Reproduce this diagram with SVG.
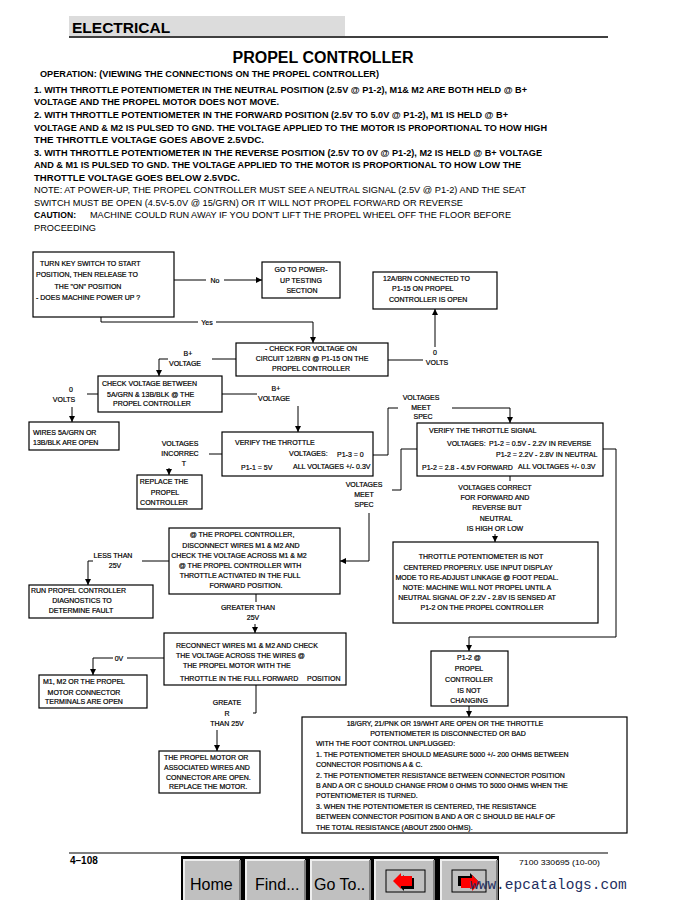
<svg xmlns="http://www.w3.org/2000/svg" width="683" height="900" viewBox="0 0 683 900">
<defs>
<marker id="ah" markerWidth="6" markerHeight="6" refX="6" refY="3" orient="auto" markerUnits="userSpaceOnUse">
<path d="M0,0 L6,3 L0,6 z" fill="#000"/>
</marker>
<style>
.p{font-family:"Liberation Sans",Arial,sans-serif;font-size:9.5px;font-weight:bold;fill:#000}
.pn{font-weight:normal}
.t{font-family:"Liberation Sans",Arial,sans-serif;font-size:7px;fill:#000;stroke:#000;stroke-width:0.2}
.m{text-anchor:middle}
.box{fill:none;stroke:#000;stroke-width:1.2}
.ln{fill:none;stroke:#000;stroke-width:1}
.arr{marker-end:url(#ah)}
.btn{fill:#c0c0c0;stroke:none}
.bt{font-family:"Liberation Sans",Arial,sans-serif;font-size:16px;fill:#000}
</style>
</defs>
<rect width="683" height="900" fill="#fff"/>

<g id="header">
<rect x="69" y="16" width="276" height="20" fill="#dcdcdc"/>
<text x="72" y="33" font-family="Liberation Sans, Arial, sans-serif" font-size="15.5" font-weight="bold">ELECTRICAL</text>
<line x1="69" y1="37" x2="608" y2="37" stroke="#000" stroke-width="1.5"/>
<text x="323" y="63" text-anchor="middle" font-family="Liberation Sans, Arial, sans-serif" font-size="16" font-weight="bold">PROPEL CONTROLLER</text>
</g>

<g id="operation-text">
<text class="p" x="40" y="76.5" textLength="339" lengthAdjust="spacingAndGlyphs">OPERATION: (VIEWING THE CONNECTIONS ON THE PROPEL CONTROLLER)</text>
<text class="p" x="34" y="92.5" textLength="493" lengthAdjust="spacingAndGlyphs">1. WITH THROTTLE POTENTIOMETER IN THE NEUTRAL POSITION (2.5V @ P1-2), M1&amp; M2 ARE BOTH HELD @ B+</text>
<text class="p" x="34" y="105" textLength="245" lengthAdjust="spacingAndGlyphs">VOLTAGE AND THE PROPEL MOTOR DOES NOT MOVE.</text>
<text class="p" x="34" y="117.5" textLength="474" lengthAdjust="spacingAndGlyphs">2. WITH THROTTLE POTENTIOMETER IN THE FORWARD POSITION (2.5V TO 5.0V @ P1-2), M1 IS HELD @ B+</text>
<text class="p" x="34" y="130.5" textLength="513" lengthAdjust="spacingAndGlyphs">VOLTAGE AND &amp; M2 IS PULSED TO GND. THE VOLTAGE APPLIED TO THE MOTOR IS PROPORTIONAL TO HOW HIGH</text>
<text class="p" x="34" y="143" textLength="230" lengthAdjust="spacingAndGlyphs">THE THROTTLE VOLTAGE GOES ABOVE 2.5VDC.</text>
<text class="p" x="34" y="155.5" textLength="508" lengthAdjust="spacingAndGlyphs">3. WITH THROTTLE POTENTIOMETER IN THE REVERSE POSITION (2.5V TO 0V @ P1-2), M2 IS HELD @ B+ VOLTAGE</text>
<text class="p" x="34" y="168" textLength="487" lengthAdjust="spacingAndGlyphs">AND &amp; M1 IS PULSED TO GND. THE VOLTAGE APPLIED TO THE MOTOR IS PROPORTIONAL TO HOW LOW THE</text>
<text class="p" x="34" y="180.5" textLength="206" lengthAdjust="spacingAndGlyphs">THROTTLE VOLTAGE GOES BELOW 2.5VDC.</text>
<text class="p pn" x="34" y="193" textLength="492" lengthAdjust="spacingAndGlyphs">NOTE: AT POWER-UP, THE PROPEL CONTROLLER MUST SEE A NEUTRAL SIGNAL (2.5V @ P1-2) AND THE SEAT</text>
<text class="p pn" x="34" y="205.5" textLength="429" lengthAdjust="spacingAndGlyphs">SWITCH MUST BE OPEN (4.5V-5.0V @ 15/GRN) OR IT WILL NOT PROPEL FORWARD OR REVERSE</text>
<text class="p" x="34" y="218" textLength="42" lengthAdjust="spacingAndGlyphs">CAUTION:</text>
<text class="p pn" x="90" y="218" textLength="421" lengthAdjust="spacingAndGlyphs">MACHINE COULD RUN AWAY IF YOU DON'T LIFT THE PROPEL WHEEL OFF THE FLOOR BEFORE</text>
<text class="p pn" x="34" y="230.5" textLength="62" lengthAdjust="spacingAndGlyphs">PROCEEDING</text>
</g>

<g id="connectors">
<line class="ln" x1="174" y1="280" x2="206" y2="280"/>
<line class="ln arr" x1="224" y1="280" x2="262" y2="280"/>
<text class="t m" x="215" y="282.5">No</text>

<polyline class="ln" points="101,317 101,322 198,322"/>
<polyline class="ln arr" points="216,322 313,322 313,343"/>
<text class="t m" x="207" y="324.5">Yes</text>

<line class="ln" x1="388" y1="360" x2="423" y2="360"/>
<line class="ln arr" x1="435" y1="347" x2="435" y2="309"/>
<text class="t m" x="435" y="354.5">0</text>
<text class="t m" x="437" y="364.5">VOLTS</text>

<line class="ln" x1="236" y1="359" x2="212" y2="359"/>
<polyline class="ln arr" points="168,359 159,359 159,376"/>
<text class="t m" x="188" y="355.5">B+</text>
<text class="t m" x="185" y="365.5">VOLTAGE</text>

<line class="ln" x1="98" y1="394" x2="87" y2="394"/>
<line class="ln arr" x1="72" y1="407" x2="72" y2="422"/>
<text class="t m" x="71" y="391.5">0</text>
<text class="t m" x="64" y="401.5">VOLTS</text>

<line class="ln" x1="222" y1="394" x2="257" y2="394"/>
<line class="ln arr" x1="298" y1="406" x2="298" y2="432"/>
<text class="t m" x="276" y="390.5">B+</text>
<text class="t m" x="274" y="400.5">VOLTAGE</text>

<line class="ln" x1="222" y1="454" x2="209" y2="454"/>
<line class="ln arr" x1="169" y1="468" x2="169" y2="475"/>
<text class="t m" x="180" y="445.5">VOLTAGES</text>
<text class="t m" x="180" y="455.5">INCORREC</text>
<text class="t m" x="184" y="465.5">T</text>

<polyline class="ln" points="373,455 388,455 388,408 398,408"/>
<polyline class="ln arr" points="452,408 510,408 510,423"/>
<text class="t m" x="421" y="399.5">VOLTAGES</text>
<text class="t m" x="421" y="409.5">MEET</text>
<text class="t m" x="423" y="418.5">SPEC</text>

<polyline class="ln" points="417,449 401,449 401,490 392,490"/>
<polyline class="ln arr" points="369,513 369,561 340,561"/>
<text class="t m" x="364" y="486.5">VOLTAGES</text>
<text class="t m" x="364" y="496.5">MEET</text>
<text class="t m" x="364" y="506.5">SPEC</text>

<line class="ln" x1="510" y1="476" x2="510" y2="481"/>
<line class="ln arr" x1="495" y1="534" x2="495" y2="542"/>
<text class="t m" x="495" y="489.5">VOLTAGES CORRECT</text>
<text class="t m" x="495" y="499.5">FOR FORWARD AND</text>
<text class="t m" x="497" y="509.5">REVERSE BUT</text>
<text class="t m" x="496" y="520.5">NEUTRAL</text>
<text class="t m" x="495" y="530.5">IS HIGH OR LOW</text>

<polyline class="ln arr" points="603,449 616,449 616,637 469,637 469,651"/>

<line class="ln" x1="169" y1="561" x2="142" y2="561"/>
<polyline class="ln arr" points="93,561 88,561 88,585"/>
<text class="t m" x="113" y="557.5">LESS THAN</text>
<text class="t m" x="115" y="567.5">25V</text>

<line class="ln" x1="256" y1="594" x2="256" y2="602"/>
<line class="ln arr" x1="255" y1="624" x2="255" y2="633"/>
<text class="t m" x="248" y="609.5">GREATER THAN</text>
<text class="t m" x="253" y="619.5">25V</text>

<line class="ln" x1="164" y1="658" x2="127" y2="658"/>
<polyline class="ln arr" points="113,658 93,658 93,675"/>
<text class="t m" x="119" y="660.5">0V</text>

<polyline class="ln" points="256,685 256,713 253,713"/>
<line class="ln arr" x1="217" y1="730" x2="217" y2="751"/>
<text class="t m" x="227" y="704.5">GREATE</text>
<text class="t m" x="227" y="715.5">R</text>
<text class="t m" x="227" y="725.5">THAN 25V</text>

<line class="ln arr" x1="469" y1="706" x2="469" y2="717"/>
</g>

<g id="node-keyswitch">
<rect class="box" x="33" y="252" width="141" height="65"/>
<text class="t" x="40" y="265.5">TURN KEY SWITCH TO START</text>
<text class="t" x="36" y="277">POSITION, THEN RELEASE TO</text>
<text class="t m" x="88" y="288.5">THE "ON" POSITION</text>
<text class="t" x="36" y="299.5">- DOES MACHINE POWER UP ?</text>
</g>

<g id="node-powerup">
<rect class="box" x="262" y="262" width="78" height="36"/>
<text class="t m" x="301" y="272">GO TO POWER-</text>
<text class="t m" x="301" y="282.5">UP TESTING</text>
<text class="t m" x="302" y="293">SECTION</text>
</g>

<g id="node-12a-open">
<rect class="box" x="373" y="272" width="124" height="37"/>
<text class="t" x="383" y="280.5">12A/BRN CONNECTED TO</text>
<text class="t" x="392" y="291">P1-15 ON PROPEL</text>
<text class="t" x="389" y="301.5">CONTROLLER IS OPEN</text>
</g>

<g id="node-check-12brn">
<rect class="box" x="236" y="343" width="152" height="33"/>
<text class="t m" x="311" y="351">- CHECK FOR VOLTAGE ON</text>
<text class="t m" x="312" y="361">CIRCUIT 12/BRN @ P1-15 ON THE</text>
<text class="t m" x="311" y="371">PROPEL CONTROLLER</text>
</g>

<g id="node-check-5a">
<rect class="box" x="98" y="376" width="124" height="36"/>
<text class="t" x="102" y="385.5">CHECK VOLTAGE BETWEEN</text>
<text class="t" x="107" y="396.5">5A/GRN &amp; 13B/BLK @ THE</text>
<text class="t" x="113" y="406">PROPEL CONTROLLER</text>
</g>

<g id="node-wires-open">
<rect class="box" x="29" y="422" width="90" height="28"/>
<text class="t" x="33" y="434.5">WIRES 5A/GRN OR</text>
<text class="t" x="33" y="444.5">13B/BLK ARE OPEN</text>
</g>

<g id="node-verify-throttle">
<rect class="box" x="222" y="432" width="151" height="44"/>
<text class="t" x="235" y="444.5">VERIFY THE THROTTLE</text>
<text class="t" x="289" y="455.5">VOLTAGES:</text>
<text class="t" x="337" y="457">P1-3 = 0</text>
<text class="t" x="241" y="470">P1-1 = 5V</text>
<text class="t" x="293" y="468.5">ALL VOLTAGES +/- 0.3V</text>
</g>

<g id="node-replace-controller">
<rect class="box" x="137" y="475" width="65" height="34"/>
<text class="t m" x="164" y="483.5">REPLACE THE</text>
<text class="t m" x="165" y="494.5">PROPEL</text>
<text class="t m" x="164" y="504.5">CONTROLLER</text>
</g>

<g id="node-verify-signal">
<rect class="box" x="417" y="423" width="186" height="53"/>
<text class="t" x="429" y="432.5">VERIFY THE THROTTLE SIGNAL</text>
<text class="t" x="447" y="445.5">VOLTAGES:</text>
<text class="t" x="489" y="445.5">P1-2 = 0.5V - 2.2V IN REVERSE</text>
<text class="t" x="496" y="456.5">P1-2 = 2.2V - 2.8V IN NEUTRAL</text>
<text class="t" x="422" y="469.5">P1-2 = 2.8 - 4.5V FORWARD</text>
<text class="t" x="518" y="469">ALL VOLTAGES +/- 0.3V</text>
</g>

<g id="node-not-centered">
<rect class="box" x="393" y="542" width="205" height="81"/>
<text class="t m" x="481" y="558.5">THROTTLE POTENTIOMETER IS NOT</text>
<text class="t m" x="478" y="569.5">CENTERED PROPERLY. USE INPUT DISPLAY</text>
<text class="t m" x="477" y="579.5">MODE TO RE-ADJUST LINKAGE @ FOOT PEDAL.</text>
<text class="t m" x="477" y="589.5">NOTE: MACHINE WILL NOT PROPEL UNTIL A</text>
<text class="t m" x="477" y="599.5">NEUTRAL SIGNAL OF 2.2V - 2.8V IS SENSED AT</text>
<text class="t m" x="482" y="609.5">P1-2 ON THE PROPEL CONTROLLER</text>
</g>

<g id="node-disconnect-m1m2">
<rect class="box" x="169" y="528" width="171" height="66"/>
<text class="t m" x="242" y="536.5">@ THE PROPEL CONTROLLER,</text>
<text class="t m" x="241" y="547.5">DISCONNECT WIRES M1 &amp; M2 AND</text>
<text class="t m" x="239" y="557.5">CHECK THE VOLTAGE ACROSS M1 &amp; M2</text>
<text class="t m" x="240" y="567.5">@ THE PROPEL CONTROLLER WITH</text>
<text class="t m" x="240" y="577.5">THROTTLE ACTIVATED IN THE FULL</text>
<text class="t m" x="246" y="587.5">FORWARD POSITION.</text>
</g>

<g id="node-run-diagnostics">
<rect class="box" x="29" y="585" width="124" height="33"/>
<text class="t" x="31" y="592.5">RUN PROPEL CONTROLLER</text>
<text class="t m" x="82" y="602.5">DIAGNOSTICS TO</text>
<text class="t m" x="81" y="612.5">DETERMINE FAULT</text>
</g>

<g id="node-reconnect">
<rect class="box" x="164" y="633" width="182" height="52"/>
<text class="t" x="176" y="647.5">RECONNECT WIRES M1 &amp; M2 AND CHECK</text>
<text class="t" x="176" y="657.5">THE VOLTAGE ACROSS THE WIRES @</text>
<text class="t" x="183" y="667.5">THE PROPEL MOTOR WITH THE</text>
<text class="t" x="180" y="680.5">THROTTLE IN THE FULL FORWARD</text>
<text class="t" x="307" y="680.5">POSITION</text>
</g>

<g id="node-terminals-open">
<rect class="box" x="39" y="675" width="108" height="33"/>
<text class="t" x="43" y="683.5">M1, M2 OR THE PROPEL</text>
<text class="t m" x="84" y="694.5">MOTOR CONNECTOR</text>
<text class="t m" x="84" y="703.5">TERMINALS ARE OPEN</text>
</g>

<g id="node-replace-motor">
<rect class="box" x="159" y="751" width="101" height="42"/>
<text class="t" x="164" y="759.5">THE PROPEL MOTOR  OR</text>
<text class="t" x="164" y="769.5">ASSOCIATED WIRES AND</text>
<text class="t" x="166" y="779.5">CONNECTOR ARE OPEN.</text>
<text class="t" x="169" y="789">REPLACE THE MOTOR.</text>
</g>

<g id="node-p12-not-changing">
<rect class="box" x="431" y="651" width="77" height="55"/>
<text class="t m" x="469" y="659.5">P1-2 @</text>
<text class="t m" x="469" y="670.5">PROPEL</text>
<text class="t m" x="469" y="681.5">CONTROLLER</text>
<text class="t m" x="469" y="692.5">IS NOT</text>
<text class="t m" x="469" y="702.5">CHANGING</text>
</g>

<g id="node-pot-bad">
<rect class="box" x="302" y="717" width="325" height="116"/>
<text class="t m" x="445" y="725.5">18/GRY, 21/PNK OR 19/WHT ARE OPEN OR THE THROTTLE</text>
<text class="t m" x="448" y="736">POTENTIOMETER IS DISCONNECTED OR BAD</text>
<text class="t" x="316" y="746.3">WITH THE FOOT CONTROL UNPLUGGED:</text>
<text class="t" x="316" y="756.7">1. THE POTENTIOMETER SHOULD MEASURE 5000 +/- 200 OHMS BETWEEN</text>
<text class="t" x="316" y="767.1">CONNECTOR POSITIONS A &amp; C.</text>
<text class="t" x="316" y="777.5">2. THE POTENTIOMETER RESISTANCE BETWEEN CONNECTOR POSITION</text>
<text class="t" x="316" y="787.9">B AND A OR C SHOULD CHANGE FROM 0 OHMS TO 5000 OHMS WHEN THE</text>
<text class="t" x="316" y="798.3">POTENTIOMETER IS TURNED.</text>
<text class="t" x="316" y="808.7">3. WHEN THE POTENTIOMETER IS CENTERED, THE RESISTANCE</text>
<text class="t" x="316" y="819.1">BETWEEN CONNECTOR POSITION B AND A OR C SHOULD BE HALF OF</text>
<text class="t" x="316" y="829.5">THE TOTAL RESISTANCE (ABOUT 2500 OHMS).</text>
</g>

<g id="footer">
<line x1="69" y1="853" x2="608" y2="853" stroke="#000" stroke-width="1.2"/>
<text x="70" y="864" font-family="Liberation Sans, Arial, sans-serif" font-size="10" font-weight="bold">4–108</text>
<text x="519" y="865" font-family="Liberation Sans, Arial, sans-serif" font-size="8" textLength="81" lengthAdjust="spacingAndGlyphs">7100 330695 (10-00)</text>
<rect x="181" y="856" width="318" height="44" fill="#000"/>
<g id="btn-home">
<rect class="btn" x="184" y="860" width="56" height="40"/>
<path d="M184,900 V860 H240" fill="none" stroke="#eee" stroke-width="2"/>
<path d="M240,860 V900" fill="none" stroke="#808080" stroke-width="2"/>
<text class="bt" x="190" y="890">Home</text>
</g>
<g id="btn-find">
<rect class="btn" x="246" y="860" width="59" height="40"/>
<path d="M246,900 V860 H305" fill="none" stroke="#eee" stroke-width="2"/>
<path d="M305,860 V900" fill="none" stroke="#808080" stroke-width="2"/>
<text class="bt" x="255" y="890">Find...</text>
</g>
<g id="btn-goto">
<rect class="btn" x="311" y="860" width="59" height="40"/>
<path d="M311,900 V860 H370" fill="none" stroke="#eee" stroke-width="2"/>
<path d="M370,860 V900" fill="none" stroke="#808080" stroke-width="2"/>
<text class="bt" x="314" y="890">Go To..</text>
</g>
<g id="btn-back">
<rect class="btn" x="375" y="860" width="59" height="40"/>
<path d="M375,900 V860 H434" fill="none" stroke="#eee" stroke-width="2"/>
<path d="M434,860 V900" fill="none" stroke="#808080" stroke-width="2"/>
<rect x="386" y="870" width="39" height="22" fill="none" stroke="#000" stroke-width="1"/>
<polygon points="396,883 404,875 404,878 414,878 414,889 404,889 404,891" fill="#000"/>
<polygon points="393,881 401,873 401,876 412,876 412,886 401,886 401,889" fill="#f00"/>
</g>
<g id="btn-forward">
<rect class="btn" x="441" y="860" width="56" height="40"/>
<path d="M441,900 V860 H497" fill="none" stroke="#eee" stroke-width="2"/>
<path d="M497,860 V900" fill="none" stroke="#808080" stroke-width="2"/>
<rect x="452" y="870" width="34" height="22" fill="none" stroke="#000" stroke-width="1"/>
<polygon points="458,876 470,876 470,873 478,881 470,889 470,886 458,886" fill="#000"/>
<polygon points="461,878 472,878 472,875 480,883 472,891 472,888 461,888" fill="#f00"/>
</g>
<text x="470" y="889" font-family="Liberation Mono, Courier New, monospace" font-size="14.5" fill="#1f2f5f">www.epcatalogs.com</text>
</g>
</svg>
